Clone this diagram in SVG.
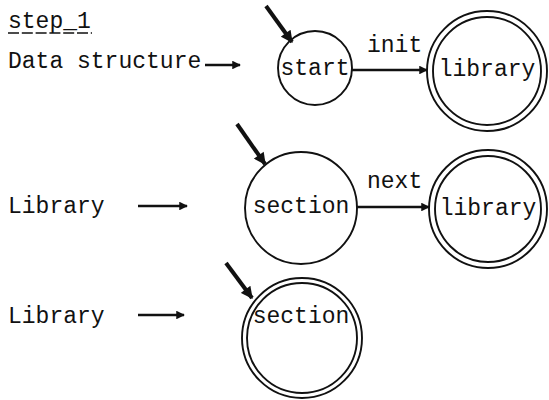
<svg xmlns="http://www.w3.org/2000/svg" width="549" height="400" viewBox="0 0 549 400">
  <style>
    text { font-family: "Liberation Mono", "DejaVu Sans Mono", monospace; font-size: 23px; fill: #111; }
    .state { fill: none; stroke: #111; stroke-width: 1.9; }
    .edge { fill: none; stroke: #111; stroke-width: 2.4; }
    .entry { fill: none; stroke: #111; stroke-width: 4; }
    .mid { text-anchor: middle; }
  </style>
  <defs>
    <marker id="head" viewBox="0 0 10 10" refX="9" refY="5" markerWidth="5" markerHeight="3.6" orient="auto" markerUnits="strokeWidth">
      <path d="M0,0 L10,5 L0,10 z" fill="#111"/>
    </marker>
    <marker id="headBig" viewBox="0 0 10 10" refX="9" refY="5" markerWidth="3.2" markerHeight="3" orient="auto" markerUnits="strokeWidth">
      <path d="M0,0 L10,5 L0,10 z" fill="#111"/>
    </marker>
  </defs>

  <!-- heading, typewriter-underlined -->
  <g id="heading">
    <text x="8" y="28">step_1</text>
    <line x1="8" y1="33" x2="92" y2="33" stroke="#111" stroke-width="1.6" stroke-dasharray="11 2.8"/>
  </g>

  <!-- row labels -->
  <g id="label-data-structure"><text x="8" y="68">Data structure</text></g>
  <g id="label-library-1"><text x="8" y="213">Library</text></g>
  <g id="label-library-2"><text x="8" y="323">Library</text></g>

  <!-- states -->
  <g id="start">
    <circle class="state" cx="315" cy="68" r="37"/>
    <text class="mid" x="315" y="75">start</text>
  </g>
  <g id="library-1">
    <circle class="state" cx="487" cy="71" r="60"/>
    <circle class="state" cx="487" cy="71" r="54"/>
    <text class="mid" x="487" y="76">library</text>
  </g>
  <g id="section-1">
    <circle class="state" cx="301" cy="208" r="56"/>
    <text class="mid" x="301" y="213">section</text>
  </g>
  <g id="library-2">
    <circle class="state" cx="488" cy="209" r="59"/>
    <circle class="state" cx="488" cy="209" r="53"/>
    <text class="mid" x="488" y="215">library</text>
  </g>
  <g id="section-2">
    <circle class="state" cx="302" cy="338" r="60"/>
    <circle class="state" cx="302" cy="338" r="55"/>
    <text class="mid" x="301" y="323">section</text>
  </g>

  <!-- connectors -->
  <g id="connectors">
    <line class="edge" x1="205" y1="65" x2="240" y2="65" marker-end="url(#head)"/>
    <line class="edge" x1="138" y1="206" x2="187" y2="206" marker-end="url(#head)"/>
    <line class="edge" x1="138" y1="315" x2="184" y2="315" marker-end="url(#head)"/>

    <line class="entry" x1="266" y1="6" x2="292" y2="42" marker-end="url(#headBig)"/>
    <line class="entry" x1="237" y1="124" x2="265" y2="164" marker-end="url(#headBig)"/>
    <line class="entry" x1="226" y1="263" x2="252" y2="298" marker-end="url(#headBig)"/>

    <line class="edge" x1="352" y1="70" x2="427" y2="70" marker-end="url(#head)"/>
    <text x="367" y="52">init</text>
    <line class="edge" x1="357" y1="207" x2="429" y2="207" marker-end="url(#head)"/>
    <text x="367" y="188">next</text>
  </g>
</svg>
